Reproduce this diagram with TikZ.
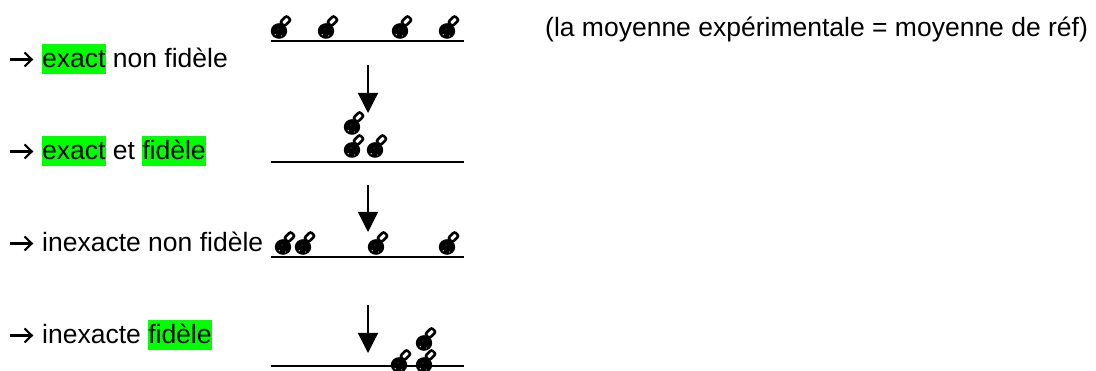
\documentclass[tikz,border=0pt]{standalone}
\usepackage{fontspec}
\setmainfont{Liberation Sans}
\usetikzlibrary{arrows.meta}
\definecolor{hlgreen}{RGB}{0,255,0}
% highlighted word: green box as tall as the font's line box
\newcommand\hlstrut{\rule[-0.212em]{0pt}{1.117em}}
\newcommand\hl[1]{{\setlength\fboxsep{0pt}\colorbox{hlgreen}{\hlstrut#1}}}
\tikzset{
  txt/.style={inner sep=0pt, anchor=base west, font=\fontsize{26.5}{30}\selectfont},
  scaleline/.style={line width=2pt},
  drop/.style={line width=1.3pt, -{Triangle[width=20pt,length=20pt]}},
  % bullet arrow in front of each caption (origin at its base line)
  pointer/.pic={
    \draw[line width=2.1pt] (0,-8.5) -- (21.5,-8.5);
    \draw[line width=2.1pt, line join=miter] (14.5,-15.5) -- (21.8,-8.5) -- (14.5,-1.5);
  },
  bomb/.pic={
    % fuse cap
    \draw[line width=2.6pt, fill=white, rounded corners=2pt,
          rotate around={45:(6.5,-10)}] (2,-13) rectangle (11,-7);
    % round body
    \fill[black] (0,0) ellipse (8.2pt and 7.8pt);
    \fill[white] (-3.8,3.8) circle (0.6pt);
    \fill[white] (2.5,5) circle (0.5pt);
    \fill[white] (-1,-2) circle (0.4pt);
  }
}
\begin{document}
\begin{tikzpicture}[x=1pt,y=-1pt]
\useasboundingbox (0,0) rectangle (1096,371);

% captions on the left
\pic (r1) at (10,68) {pointer};
\node[txt] (t1) at (42,68) {\hl{exact} non fidèle};
\pic (r2) at (10,160) {pointer};
\node[txt] (t2) at (42,160) {\hl{exact} et \hl{fidèle}};
\pic (r3) at (10,252) {pointer};
\node[txt] (t3) at (42,252) {inexacte non fidèle};
\pic (r4) at (10,344) {pointer};
\node[txt] (t4) at (42,344) {inexacte \hl{fidèle}};
\node[txt] (note) at (545,37) {(la moyenne expérimentale = moyenne de réf)};

% horizontal scales
\coordinate (s1w) at (271,41);  \coordinate (s1e) at (464,41);
\coordinate (s2w) at (271,162); \coordinate (s2e) at (464,162);
\coordinate (s3w) at (271,257); \coordinate (s3e) at (464,257);
\coordinate (s4w) at (271,366); \coordinate (s4e) at (464,366);
\draw[scaleline] (s1w) -- (s1e);
\draw[scaleline] (s2w) -- (s2e);
\draw[scaleline] (s3w) -- (s3e);
\draw[scaleline] (s4w) -- (s4e);

% reference value arrows
\coordinate (d1s) at (368,65);  \coordinate (d1e) at (368,113);
\coordinate (d2s) at (368,185); \coordinate (d2e) at (368,232);
\coordinate (d3s) at (368,305); \coordinate (d3e) at (368,353);
\draw[drop] (d1s) -- (d1e);
\draw[drop] (d2s) -- (d2e);
\draw[drop] (d3s) -- (d3e);

% measurements
\pic (b11) at (279,31) {bomb};
\pic (b12) at (326,31) {bomb};
\pic (b13) at (400,31) {bomb};
\pic (b14) at (447,31) {bomb};

\pic (b21) at (352,127) {bomb};
\pic (b22) at (352,150) {bomb};
\pic (b23) at (375,150) {bomb};

\pic (b31) at (283,247) {bomb};
\pic (b32) at (303,247) {bomb};
\pic (b33) at (376,247) {bomb};
\pic (b34) at (447,247) {bomb};

\pic (b41) at (424,343) {bomb};
\pic (b42) at (399,365) {bomb};
\pic (b43) at (424,365) {bomb};
\end{tikzpicture}
\end{document}
